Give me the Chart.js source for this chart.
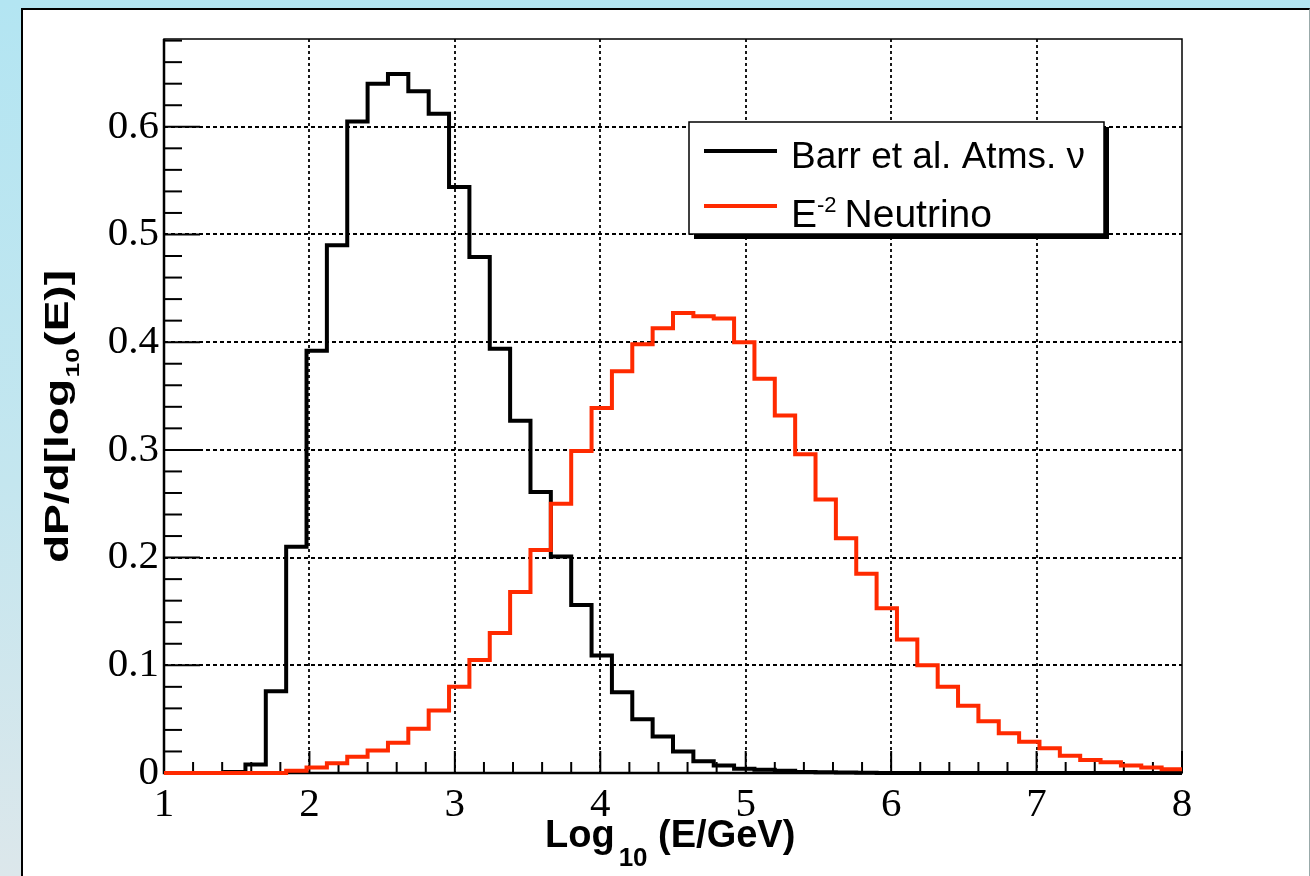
<!DOCTYPE html>
<html>
<head>
<meta charset="utf-8">
<script src="https://cdn.jsdelivr.net/npm/chart.js@4.4.1/dist/chart.umd.min.js"></script>
<style>
  html, body { margin: 0; padding: 0; width: 1310px; height: 876px; overflow: hidden; }
  body { background: linear-gradient(180deg, #b3e5f2 0%, #c4e6ef 55%, #dce7eb 100%); position: relative; }
  #panel {
    position: absolute; left: 21px; top: 8px; width: 1286px; height: 868px;
    background: #ffffff; border-left: 2px solid #000; border-top: 2px solid #000; border-right: 1px solid #9aa;
  }
  #wrap { position: absolute; left: 0; top: 0; width: 1310px; height: 876px; }
</style>
</head>
<body>
<div id="panel"></div>
<div id="wrap"><canvas id="histChart" width="1310" height="876"></canvas></div>
<script>
// bin edges of the histogram (50 bins between 1 and 8)
const binEdges = [1.00, 1.14, 1.28, 1.42, 1.56, 1.70, 1.84, 1.98, 2.12, 2.26,
                  2.40, 2.54, 2.68, 2.82, 2.96, 3.10, 3.24, 3.38, 3.52, 3.66,
                  3.80, 3.94, 4.08, 4.22, 4.36, 4.50, 4.64, 4.78, 4.92, 5.06,
                  5.20, 5.34, 5.48, 5.62, 5.76, 5.90, 6.04, 6.18, 6.32, 6.46,
                  6.60, 6.74, 6.88, 7.02, 7.16, 7.30, 7.44, 7.58, 7.72, 7.86, 8.00];

// Barr et al. atmospheric neutrinos
const atmsValues = [0, 0, 0, 0.001, 0.008, 0.076, 0.210, 0.392, 0.490, 0.605,
                    0.640, 0.649, 0.633, 0.612, 0.544, 0.479, 0.394, 0.327, 0.261, 0.201,
                    0.156, 0.109, 0.075, 0.050, 0.034, 0.020, 0.011, 0.007, 0.004, 0.003,
                    0.002, 0.001, 0.0006, 0.0004, 0.0002, 0, 0, 0, 0, 0,
                    0, 0, 0, 0, 0, 0, 0, 0, 0, 0];

// E^-2 neutrino spectrum
const e2Values = [0, 0, 0, 0, 0, 0, 0.002, 0.005, 0.009, 0.015,
                  0.021, 0.028, 0.041, 0.058, 0.080, 0.105, 0.130, 0.168, 0.207, 0.250,
                  0.299, 0.339, 0.373, 0.398, 0.413, 0.427, 0.424, 0.422, 0.400, 0.366,
                  0.332, 0.296, 0.254, 0.218, 0.185, 0.153, 0.124, 0.100, 0.080, 0.0625,
                  0.048, 0.037, 0.029, 0.023, 0.016, 0.012, 0.010, 0.007, 0.005, 0.0034];

const xTicks = [1, 2, 3, 4, 5, 6, 7, 8];
const xTickLabels = ["1", "2", "3", "4", "5", "6", "7", "8"];
const yTicks = [0, 0.1, 0.2, 0.3, 0.4, 0.5, 0.6];
const yTickLabels = ["0", "0.1", "0.2", "0.3", "0.4", "0.5", "0.6"];

const X_MIN = 1, X_MAX = 8, Y_MIN = 0, Y_MAX = 0.6815;
const RED = "#ff2a00";

// histogram outline: each point sits on the left edge of its bin
function toSteps(values) {
    return binEdges.map((x, i) => ({ x: x, y: values[Math.min(i, values.length - 1)] }));
}

// ROOT style frame: dotted grid, inward ticks, titles and legend
const rootStyle = {
    id: "rootStyle",
    beforeDatasetsDraw(chart) {
        const { ctx, chartArea: a, scales: { x, y } } = chart;
        ctx.save();
        ctx.strokeStyle = "#000";
        ctx.lineWidth = 1.8;
        ctx.setLineDash([3, 3]);
        xTicks.forEach(v => {
            if (v === X_MIN || v === X_MAX) return;
            const px = Math.round(x.getPixelForValue(v));
            ctx.beginPath(); ctx.moveTo(px, a.top); ctx.lineTo(px, a.bottom); ctx.stroke();
        });
        ctx.setLineDash([4, 3]);
        yTicks.forEach(v => {
            if (v === Y_MIN) return;
            const py = Math.round(y.getPixelForValue(v));
            ctx.beginPath(); ctx.moveTo(a.left, py); ctx.lineTo(a.right, py); ctx.stroke();
        });
        ctx.setLineDash([]);

        // frame
        ctx.lineWidth = 1.5;
        ctx.strokeRect(a.left, a.top, a.right - a.left, a.bottom - a.top);
        ctx.lineWidth = 2.5;
        ctx.beginPath();
        ctx.moveTo(a.left, a.top); ctx.lineTo(a.left, a.bottom); ctx.lineTo(a.right, a.bottom);
        ctx.stroke();

        // y ticks (major 0.1, minor 0.02)
        ctx.lineWidth = 2;
        for (let i = 0; i <= 34; i++) {
            const v = i * 0.02;
            const py = y.getPixelForValue(v);
            const len = i % 5 === 0 ? 36 : 18;
            ctx.beginPath(); ctx.moveTo(a.left, py); ctx.lineTo(a.left + len, py); ctx.stroke();
        }
        // x ticks (major 1, minor 0.2)
        for (let i = 0; i <= 35; i++) {
            const v = X_MIN + i * 0.2;
            const px = x.getPixelForValue(v);
            const len = i % 5 === 0 ? 22 : 11;
            ctx.beginPath(); ctx.moveTo(px, a.bottom); ctx.lineTo(px, a.bottom - len); ctx.stroke();
        }
        ctx.restore();
    },
    afterDatasetsDraw(chart) {
        const { ctx } = chart;
        ctx.save();

        // x title with subscript
        ctx.fillStyle = "#000";
        ctx.textBaseline = "alphabetic";
        ctx.textAlign = "left";
        let tx = 545;
        ctx.font = "bold 38px 'Liberation Sans'";
        ctx.fillText("Log", tx, 847);
        tx += ctx.measureText("Log").width + 4;
        ctx.font = "bold 26px 'Liberation Sans'";
        ctx.fillText("10", tx, 866);
        tx += ctx.measureText("10").width;
        ctx.font = "bold 38px 'Liberation Sans'";
        ctx.fillText(" (E/GeV)", tx, 847);

        // y title, rotated, with subscript
        ctx.save();
        ctx.translate(68, 563);
        ctx.rotate(-Math.PI / 2);
        const mainFont = "bold 33px 'Liberation Sans'";
        const subFont = "bold 19px 'Liberation Sans'";
        ctx.font = mainFont;
        const w1 = ctx.measureText("dP/d[log").width;
        const w3 = ctx.measureText("(E)]").width;
        ctx.font = subFont;
        const w2 = ctx.measureText("10").width + 2;
        ctx.scale(293 / (w1 + w2 + w3), 1);
        ctx.font = mainFont;
        ctx.fillText("dP/d[log", 0, 0);
        ctx.font = subFont;
        ctx.fillText("10", w1 + 1, 11);
        ctx.font = mainFont;
        ctx.fillText("(E)]", w1 + w2, 0);
        ctx.restore();

        // legend box with shadow
        const lx = 689, ly = 122, lw = 415, lh = 112;
        ctx.fillStyle = "#000";
        ctx.fillRect(lx + 5, ly + 5, lw, lh);
        ctx.fillStyle = "#fff";
        ctx.fillRect(lx, ly, lw, lh);
        ctx.strokeStyle = "#000";
        ctx.lineWidth = 1.5;
        ctx.strokeRect(lx, ly, lw, lh);

        ctx.lineWidth = 4;
        ctx.beginPath(); ctx.moveTo(704, 151); ctx.lineTo(777, 151); ctx.stroke();
        ctx.strokeStyle = RED;
        ctx.beginPath(); ctx.moveTo(704, 206); ctx.lineTo(777, 206); ctx.stroke();

        ctx.fillStyle = "#000";
        ctx.font = "37px 'Liberation Sans'";
        ctx.fillText("Barr et al. Atms. \u03bd", 791, 168);
        ctx.font = "39px 'Liberation Sans'";
        ctx.fillText("E", 791, 227);
        let ex = 791 + ctx.measureText("E").width;
        ctx.font = "22px 'Liberation Sans'";
        ctx.fillText("-2", ex, 212);
        ex += ctx.measureText("-2").width + 8;
        ctx.font = "39px 'Liberation Sans'";
        ctx.fillText("Neutrino", ex, 227);

        ctx.restore();
    }
};

const ctx = document.getElementById("histChart").getContext("2d");
new Chart(ctx, {
    type: "line",
    data: {
        datasets: [{
            label: "E^-2 Neutrino",
            data: toSteps(e2Values),
            borderColor: RED,
            borderWidth: 4,
            stepped: true,
            pointRadius: 0,
            fill: false,
            clip: 3,
            order: 1
        }, {
            label: "Barr et al. Atms. \u03bd",
            data: toSteps(atmsValues),
            borderColor: "#000",
            borderWidth: 4,
            stepped: true,
            pointRadius: 0,
            fill: false,
            clip: 3,
            order: 2
        }]
    },
    options: {
        responsive: false,
        animation: false,
        devicePixelRatio: 1,
        layout: { padding: { left: 0, top: 39, right: 128, bottom: 0 } },
        plugins: {
            legend: { display: false },
            tooltip: { enabled: false }
        },
        scales: {
            x: {
                type: "linear",
                min: X_MIN,
                max: X_MAX,
                grid: { display: false },
                border: { display: false },
                afterBuildTicks: s => { s.ticks = xTicks.map(v => ({ value: v })); },
                afterFit: s => { s.height = 103; },
                ticks: {
                    padding: 0,
                    maxRotation: 0,
                    color: "#000",
                    font: { family: "'Liberation Serif'", size: 41 },
                    callback: (v, i) => xTickLabels[i]
                }
            },
            y: {
                type: "linear",
                min: Y_MIN,
                max: Y_MAX,
                grid: { display: false },
                border: { display: false },
                afterBuildTicks: s => { s.ticks = yTicks.map(v => ({ value: v })); },
                afterFit: s => { s.width = 164; },
                ticks: {
                    padding: -3,
                    color: "#000",
                    font: { family: "'Liberation Serif'", size: 41 },
                    callback: (v, i) => yTickLabels[i]
                }
            }
        }
    },
    plugins: [rootStyle]
});
</script>
</body>
</html>
